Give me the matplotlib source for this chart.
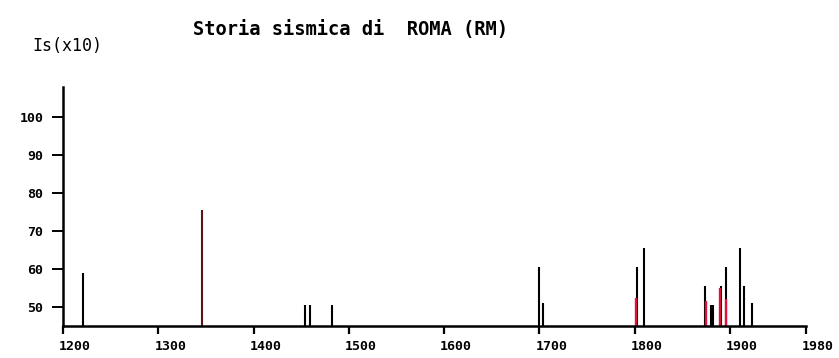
import matplotlib
matplotlib.use("Agg")
import matplotlib.pyplot as plt
import matplotlib.transforms as mtransforms

# seismic history of Rome: year of event and site intensity (Is x10)
years = [1221, 1346, 1454, 1459, 1482, 1700, 1704, 1803, 1810,
         1874, 1880, 1882, 1891, 1896, 1911, 1915, 1923]
intensity = [59, 75.5, 50.5, 50.5, 50.5, 60.5, 51, 60.5, 65.5,
             55.5, 50.5, 50.5, 55.5, 60.5, 65.5, 55.5, 51]

# events flagged in red (overlaid at the base of the clusters)
red_years = [1802, 1874.5, 1890, 1895.5]
red_intensity = [52.5, 51.5, 55, 52]

title = "Storia sismica di  ROMA (RM)"
ylabel = "Is(x10)"
xticks = [1200, 1300, 1400, 1500, 1600, 1700, 1800, 1900, 1980]
yticks = [50, 60, 70, 80, 90, 100]

W, H = 839, 358
fig = plt.figure(figsize=(W / 100, H / 100), dpi=100)
ax = fig.add_axes([63 / W, 32 / H, 743 / W, 239 / H])

ymin = 45
colors = ["black"] * len(years)
colors[1] = "#5c1414"
ax.vlines(years, ymin, intensity, colors=colors, linewidth=1.5)
ax.vlines(red_years, ymin, red_intensity, colors="#e0103c", linewidth=1.7)

ax.set_xlim(1200, 1980)
ax.set_ylim(ymin, 108)
for s in ["top", "right"]:
    ax.spines[s].set_visible(False)
for s in ["left", "bottom"]:
    ax.spines[s].set_linewidth(1.8)

tick_font = dict(family="DejaVu Sans Mono", weight="bold", size=9.5)
ax.set_xticks(xticks)
ax.set_xticklabels([str(t) for t in xticks], ha="left", **tick_font)
ax.set_yticks(yticks)
ax.set_yticklabels([str(t) for t in yticks], **tick_font)
ax.tick_params(axis="x", direction="out", length=6, width=1.6, pad=4)
ax.tick_params(axis="y", direction="out", length=8, width=1.4, pad=6)

# x labels start just left of their tick
offset = mtransforms.ScaledTranslation(-4 / 100, 0, fig.dpi_scale_trans)
for lbl in ax.get_xticklabels():
    lbl.set_transform(lbl.get_transform() + offset)

fig.text(193 / W, 1 - 29 / H, title, ha="left", va="center",
         family="DejaVu Sans Mono", weight="bold", size=13.5)
fig.text(32 / W, 1 - 46 / H, ylabel, ha="left", va="center",
         family="DejaVu Sans Mono", size=12)

fig.savefig("out.png", dpi=100)
